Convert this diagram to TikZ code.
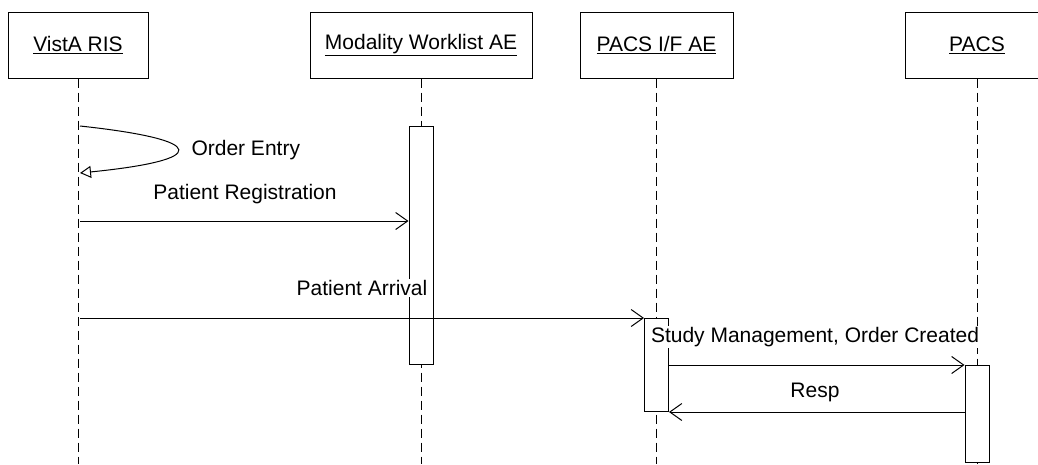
\documentclass[tikz,border=0pt]{standalone}
\usepackage{fontspec}
\setmainfont{Liberation Sans}
\usetikzlibrary{arrows.meta}

\tikzset{
    obj/.style={draw, fill=white, minimum height=66pt, inner sep=0pt},
    life/.style={dash pattern=on 9pt off 5pt},
    act/.style={draw, fill=white, minimum width=24pt, anchor=north, inner sep=0pt},
    msg/.style={-{Straight Barb[length=12pt, width=17pt]}},
    selfmsg/.style={-{Triangle[open, length=11pt, width=12pt]}},
    lbl/.style={fill=white, inner sep=1pt}
}

\begin{document}
\begin{tikzpicture}[x=1pt, y=-1pt, line width=1pt,
        every node/.append style={font=\fontsize{21}{25}\selectfont}]
        \useasboundingbox (0,0) rectangle (1038,464);

        % objects
        \node[obj, minimum width=140pt] (ris) at (78,45) {\underline{VistA RIS}};
        \node[obj, minimum width=222pt] (mwl) at (421,45) {\underline{Modality Worklist AE}};
        \node[obj, minimum width=153pt] (pif) at (656.5,45) {\underline{PACS I/F AE}};
        \node[obj, minimum width=144pt] (pacs) at (977,45) {\underline{PACS}};

        \coordinate (ris-end) at (78,464);
        \coordinate (mwl-end) at (421,464);
        \coordinate (pif-end) at (656.5,464);
        \coordinate (pacs-end) at (977,464);

        % lifelines
        \draw[life] (ris.south) -- (ris-end);
        \draw[life] (mwl.south) -- (mwl-end);
        \draw[life] (pif.south) -- (pif-end);
        \draw[life] (pacs.south) -- (pacs-end);

        % activations
        \node[act, minimum height=238pt] (mwl-act) at (421,126) {};
        \node[act, minimum height=93pt] (pif-act) at (656.5,318) {};
        \node[act, minimum height=97pt] (pacs-act) at (977,365) {};

        % messages
        \coordinate (oe-a) at (80,126);
        \coordinate (oe-b) at (80,173);
        \draw[selfmsg] (oe-a) .. controls (210,140) and (210,160) .. (oe-b);
        \coordinate (reg) at (80,221);
        \draw[msg] (reg) -- (reg -| mwl-act.west);
        \coordinate (arr) at (80,318);
        \draw[msg] (arr) -- (pif-act.north west);
        \draw[msg] (pif-act.east |- pacs-act.north) -- (pacs-act.north west);
        \draw[msg] (pacs-act.west |- pif-act.south) -- (pif-act.south east);

        % labels
        \node[lbl, anchor=west] (oe) at (190,150) {Order Entry};
        \node[lbl] (reg-lbl) at (245,194) {Patient Registration};
        \node[lbl] (arr-lbl) at (362,288) {Patient Arrival};
        \node[lbl] (study-lbl) at (815,337) {Study Management, Order Created};
        \node[lbl] (resp-lbl) at (815,392) {Resp};
    \end{tikzpicture}
\end{document}
